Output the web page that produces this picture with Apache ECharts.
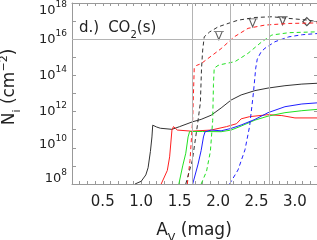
<!DOCTYPE html>
<html><head><meta charset="utf-8">
<script src="https://cdn.jsdelivr.net/npm/echarts@6/dist/echarts.min.js"></script>
<style>html,body{margin:0;padding:0;background:#fff}#c{width:317px;height:240px}</style>
</head><body><div id="c"></div>
<script>
const FONT = 'DejaVu Sans';
const TXT = '#222';
const AXC = '#999';

// tick labels
const xLabelValues = [0.5, 1.0, 1.5, 2.0, 2.5, 3.0];
const yLabelExponents = [8, 10, 12, 14, 16, 18];

// reference lines
const refAv = [1.66, 2.16, 2.66];
const refLogN = 16;

// series: A_V (mag) and log10 N_i (cm^-2)
const blackSolidAv   = [0.92, 1.00, 1.06, 1.09, 1.12, 1.14, 1.15, 1.20, 1.25, 1.40, 1.50, 1.67, 1.78, 1.91, 2.04, 2.17, 2.30, 2.48, 2.65, 2.87, 3.09, 3.31];
const blackSolidLogN = [8.0, 8.15, 8.5, 8.9, 9.8, 10.6, 11.25, 11.15, 11.08, 11.02, 11.17, 11.44, 11.57, 11.8, 12.2, 12.64, 12.92, 13.16, 13.3, 13.43, 13.52, 13.57];

const redSolidAv   = [1.26, 1.34, 1.37, 1.40, 1.42, 1.47, 1.65, 1.91, 2.11, 2.24, 2.30, 2.41, 2.65, 2.83, 3.00, 3.31];
const redSolidLogN = [8.0, 8.75, 9.5, 10.98, 11.17, 10.98, 10.92, 10.98, 11.17, 11.33, 11.6, 11.72, 11.83, 11.78, 11.65, 11.65];

const greenSolidAv   = [1.49, 1.54, 1.58, 1.61, 1.63, 1.80, 2.04, 2.17, 2.30, 2.48, 2.65, 2.87, 3.09, 3.31];
const greenSolidLogN = [8.0, 9.0, 9.7, 10.6, 10.9, 10.9, 10.89, 10.98, 11.2, 11.53, 11.75, 11.94, 12.05, 12.13];

const blueSolidAv   = [1.67, 1.74, 1.78, 1.81, 1.83, 1.91, 2.04, 2.17, 2.30, 2.48, 2.65, 2.87, 3.09, 3.31];
const blueSolidLogN = [8.0, 9.1, 9.85, 10.6, 10.88, 10.98, 10.94, 11.07, 11.26, 11.57, 11.94, 12.27, 12.42, 12.49];

const blackDashAv   = [1.58, 1.665, 1.73, 1.77, 1.785, 1.80, 1.82, 1.89, 2.00, 2.13, 2.26, 2.48, 2.70, 2.92, 3.18, 3.31];
const blackDashLogN = [8.0, 9.3, 11.2, 12.5, 14.4, 15.4, 16.13, 16.4, 16.68, 16.87, 17.05, 17.2, 17.24, 17.15, 17.05, 16.96];

const redDashAv   = [1.60, 1.635, 1.67, 1.69, 1.72, 1.78, 2.04, 2.21, 2.39, 2.61, 2.92, 3.31];
const redDashLogN = [8.0, 9.3, 11.6, 14.4, 14.55, 14.65, 15.48, 16.13, 16.6, 16.78, 16.87, 16.9];

const greenDashAv   = [1.78, 1.85, 1.90, 1.93, 1.94, 1.95, 2.00, 2.04, 2.22, 2.39, 2.57, 2.70, 2.92, 3.31];
const greenDashLogN = [8.0, 8.7, 9.8, 11.5, 13.5, 14.4, 14.55, 14.6, 14.76, 15.22, 15.86, 16.23, 16.36, 16.41];

const blueDashAv   = [2.15, 2.26, 2.35, 2.41, 2.46, 2.49, 2.51, 2.56, 2.61, 2.74, 2.92, 3.10, 3.31];
const blueDashLogN = [8.0, 8.78, 9.89, 11.18, 13.04, 14.4, 14.9, 15.3, 15.5, 15.86, 16.13, 16.25, 16.32];

// observed markers
const triangleAv   = [2.01, 2.45, 2.84];
const triangleLogN = [16.2, 16.9, 17.02];
const diamondAv   = [3.155];
const diamondLogN = [16.97];

// style: vertical nudge (px) of some y tick labels, as in the original figure
const yLabelNudge = { 8: -5, 10: -3, 18: 8 };

const zip = (a, b) => a.map((v, i) => [v, b[i]]);

function lineSeries(xs, ys, color, dashed) {
  return {
    type: 'line', data: zip(xs, ys), showSymbol: false, symbol: 'none',
    lineStyle: { color: color, width: 1, type: dashed ? [4, 3] : 'solid' },
    silent: true, animation: false, clip: true
  };
}

const isMult = (v, step) => Math.abs(v / step - Math.round(v / step)) < 1e-6;

// rich helpers: base token of height H, superscript / subscript shifted via padding; d = extra downward shift
function base(size, H, col, d) {
  d = d || 0;
  return { fontFamily: FONT, fontSize: size, lineHeight: H, color: col, fill: col,
    padding: [d > 0 ? 2 * d : 0, 0, d < 0 ? -2 * d : 0, 0] };
}
function sup(size, H, col, d) {
  d = d || 0;
  return { fontFamily: FONT, fontSize: size, lineHeight: 10, color: col, fill: col,
    padding: [d > 0 ? 2 * d : 0, 0, H - 10 + (d < 0 ? -2 * d : 0), 0] };
}
function sub(size, H, col) { return { fontFamily: FONT, fontSize: size, lineHeight: 10, padding: [H - 10, 0, 0, 0], color: col, fill: col }; }

const yRich = {};
yLabelExponents.forEach(e => {
  yRich['b' + e] = base(13, 22, TXT, yLabelNudge[e]);
  yRich['s' + e] = sup(9, 22, TXT, yLabelNudge[e]);
});

const chart = echarts.init(document.getElementById('c'), null, { renderer: 'canvas' });

const xAxisBase = {
  type: 'value', min: 0.1, max: 3.3, interval: 0.1,
  splitLine: { show: false },
  axisLine: { show: true, lineStyle: { color: AXC, width: 1 } },
  axisTick: { show: true, inside: true, length: 3, lineStyle: { color: AXC } }
};
const yAxisBase = {
  type: 'value', min: 8, max: 18, interval: 1,
  splitLine: { show: false },
  axisLine: { show: true, lineStyle: { color: AXC, width: 1 } },
  axisTick: { show: true, inside: true, length: 4, lineStyle: { color: AXC } }
};

const option = {
  animation: false,
  backgroundColor: '#fff',
  grid: { left: 72, right: -1, top: 3, bottom: 56, containLabel: false, outerBoundsMode: 'none' },
  xAxis: [
    Object.assign({}, xAxisBase, {
      position: 'bottom',
      axisLabel: {
        show: true, margin: 11, color: TXT, fontFamily: FONT, fontSize: 15,
        showMinLabel: true, showMaxLabel: true,
        formatter: v => {
          const hit = xLabelValues.find(t => Math.abs(t - v) < 1e-6);
          return hit !== undefined ? hit.toFixed(1) : '';
        }
      }
    }),
    Object.assign({}, xAxisBase, { position: 'top', axisLabel: { show: false } })
  ],
  yAxis: [
    Object.assign({}, yAxisBase, {
      position: 'left',
      axisLabel: {
        show: true, margin: 5, color: TXT, fontFamily: FONT,
        formatter: v => {
          const e = Math.round(v);
          if (!isMult(v, 1) || yLabelExponents.indexOf(e) < 0) return '';
          return '{b' + e + '|10}{s' + e + '|' + e + '}';
        },
        rich: yRich
      }
    }),
    Object.assign({}, yAxisBase, { position: 'right', axisLabel: { show: false } })
  ],
  series: [
    {
      type: 'line', data: [], silent: true,
      markLine: {
        silent: true, symbol: 'none', animation: false,
        label: { show: false },
        lineStyle: { color: '#b4b4b4', type: 'solid', width: 1 },
        data: refAv.map(a => ({ xAxis: a })).concat([{ yAxis: refLogN }])
      }
    },
    lineSeries(blackSolidAv, blackSolidLogN, '#333', false),
    lineSeries(redSolidAv, redSolidLogN, '#ff2020', false),
    lineSeries(greenSolidAv, greenSolidLogN, '#22e022', false),
    lineSeries(blueSolidAv, blueSolidLogN, '#2020ff', false),
    lineSeries(redDashAv, redDashLogN, '#ff2020', true),
    lineSeries(greenDashAv, greenDashLogN, '#22e022', true),
    lineSeries(blueDashAv, blueDashLogN, '#2020ff', true),
    lineSeries(blackDashAv, blackDashLogN, '#333', true),
    {
      type: 'scatter', data: zip(triangleAv, triangleLogN), silent: true, animation: false,
      symbol: 'path://M0,0L12,0M2,0L6,9L10,0', symbolSize: [10, 8], symbolKeepAspect: false,
      itemStyle: { color: 'rgba(0,0,0,0)', borderColor: '#333', borderWidth: 1 }
    },
    {
      type: 'scatter', data: zip(diamondAv, diamondLogN), silent: true, animation: false,
      symbol: 'diamond', symbolSize: [8, 8],
      itemStyle: { color: 'rgba(0,0,0,0)', borderColor: '#222', borderWidth: 1.2 }
    }
  ],
  graphic: [
    {
      type: 'text', x: 79, y: 28, silent: true,
      style: {
        text: '{a|d.)}{g|}{a|CO}{u|2}{a|(s)}',
        align: 'left', verticalAlign: 'middle',
        rich: { a: base(15, 22, TXT), g: { width: 9, lineHeight: 22 }, u: sub(10, 24, TXT) }
      }
    },
    {
      type: 'text', x: 194, y: 231, silent: true,
      style: {
        text: '{b|A}{u|V}{b| (mag)}',
        align: 'center', verticalAlign: 'middle',
        rich: { b: base(17, 22, TXT), u: sub(11, 24, TXT) }
      }
    },
    {
      type: 'text', x: 10, y: 87, rotation: Math.PI / 2, silent: true,
      style: {
        text: '{b|N}{u|i}{b| (cm}{p|−2}{b|)}',
        align: 'center', verticalAlign: 'middle',
        rich: { b: base(17, 22, TXT), u: sub(11, 24, TXT), p: sup(11, 22, TXT) }
      }
    }
  ]
};
chart.setOption(option);
</script>
</body></html>
